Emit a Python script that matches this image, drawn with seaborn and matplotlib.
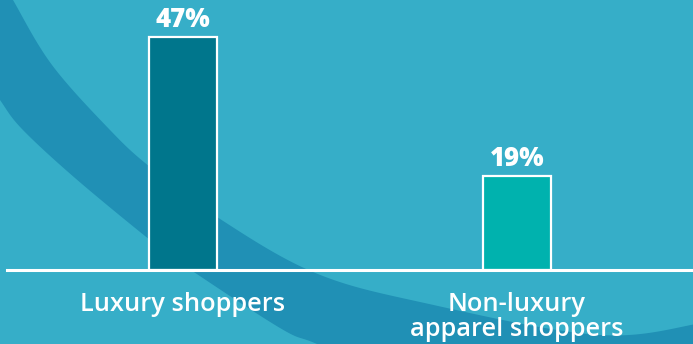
import numpy as np
import matplotlib
matplotlib.use("Agg")
import matplotlib.pyplot as plt
from matplotlib.patches import Polygon
import seaborn as sns

categories = ["Luxury shoppers", "Non-luxury\napparel shoppers"]
values = [47, 19]
value_labels = ["47%", "19%"]
bar_colors = ["#00768C", "#00B2AE"]

BG = "#36AEC8"
BAND = "#2090B5"
W, H = 693, 344

sns.set_theme(style="white")
plt.rcParams['font.family'] = ['Open Sans', 'DejaVu Sans']

fig = plt.figure(figsize=(W / 100, H / 100), dpi=100)
fig.patch.set_facecolor(BG)


def catmull(pts, n=30):
    pts = np.asarray(pts, float)
    P = np.vstack([2 * pts[0] - pts[1], pts, 2 * pts[-1] - pts[-2]])
    out = []
    t = np.linspace(0, 1, n, endpoint=False)[:, None]
    for i in range(1, len(P) - 2):
        p0, p1, p2, p3 = P[i - 1], P[i], P[i + 1], P[i + 2]
        out.append(0.5 * ((2 * p1) + (-p0 + p2) * t + (2 * p0 - 5 * p1 + 4 * p2 - p3) * t ** 2
                          + (-p0 + 3 * p1 - 3 * p2 + p3) * t ** 3))
    out.append(pts[-1:])
    return np.vstack(out)


# decorative background band (pixel coordinates, y down)
upper = catmull([(-6, -35), (13, 0), (52, 65), (110, 130), (150, 167), (217, 217),
                 (313, 272), (420, 302), (600, 335), (720, 320)])
lower = catmull([(-20, 70), (0, 100), (22, 129), (75, 178), (150, 240), (185, 266),
                 (280, 328), (317, 344), (400, 380)])
poly = np.vstack([upper, [(720, 420), (400, 420)], lower[::-1], [(-20, -35)]])
poly_fig = np.column_stack([poly[:, 0] / W, 1 - poly[:, 1] / H])
fig.patches.append(Polygon(poly_fig, closed=True, transform=fig.transFigure,
                           facecolor=BAND, edgecolor="none", zorder=-5))

base_px = 270
ax = fig.add_axes([7 / W, (H - base_px) / H, (W - 7) / W, base_px / H])
ax.set_facecolor("none")
ax.set_zorder(1)

sns.barplot(x=categories, y=values, hue=categories, palette=bar_colors, legend=False,
            ax=ax, edgecolor="white", linewidth=1.6, width=0.204, saturation=1)

ax.set_xlim(-176 / 334, (686 - 176) / 334)
ax.set_ylim(0, 47 * base_px / 233)

for cont, lab in zip(ax.containers, value_labels):
    ax.bar_label(cont, labels=[lab], padding=3, color="white", fontsize=18.5,
                 fontweight=800)

for s in ["top", "left", "right"]:
    ax.spines[s].set_visible(False)
ax.spines["bottom"].set_color("white")
ax.spines["bottom"].set_linewidth(2.2)
ax.set_yticks([])
ax.tick_params(axis="x", length=0, pad=16, labelsize=18.3, colors="white")
for t in ax.get_xticklabels():
    t.set_fontweight("semibold")
    t.set_linespacing(1.0)
ax.set_xlabel("")
ax.set_ylabel("")

fig.savefig("out.png", dpi=100, facecolor=BG)
